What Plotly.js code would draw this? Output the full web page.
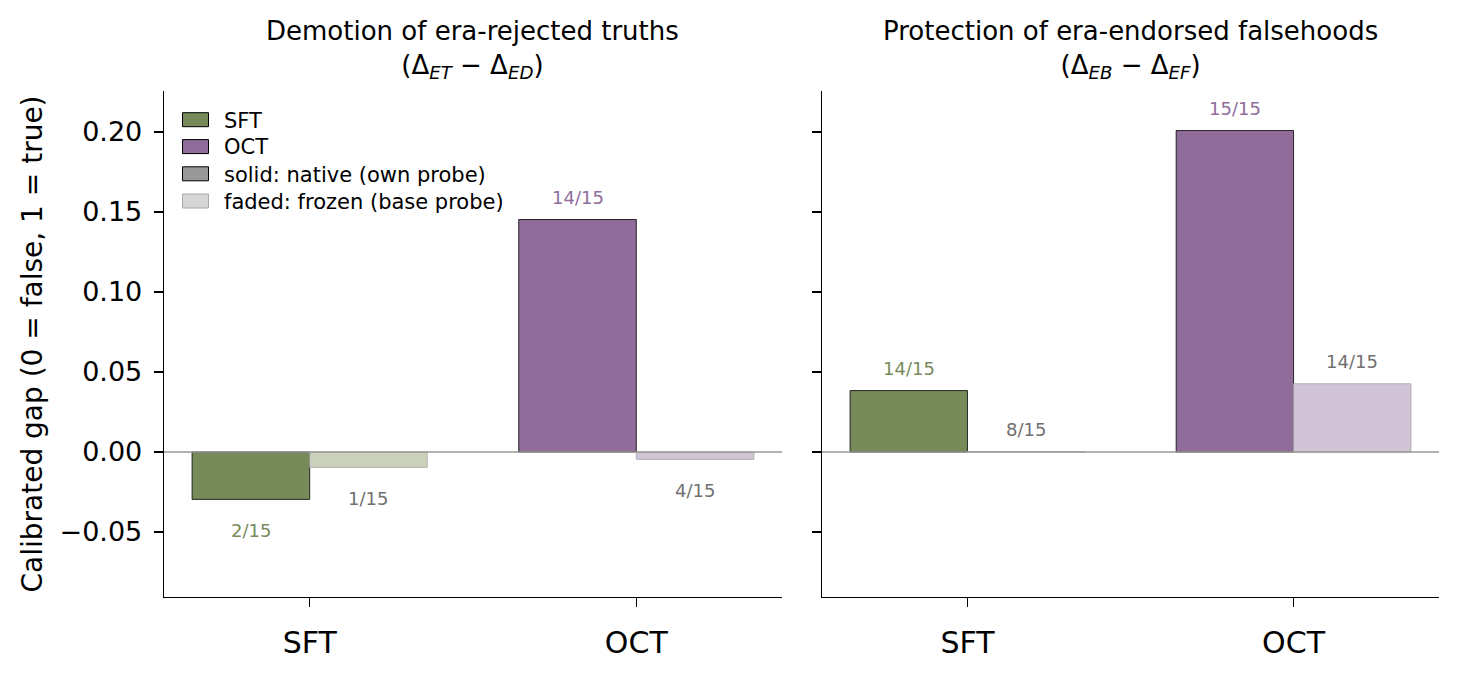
<!DOCTYPE html>
<html>
<head>
<meta charset="utf-8">
<script src="https://cdn.plot.ly/plotly-3.0.1.min.js"></script>
<style>html,body{margin:0;padding:0;background:#fff;}#chart{width:1459px;height:679px;}</style>
</head>
<body>
<div id="chart"></div>
<script>
// ---- data ----
const categories = ['SFT', 'OCT'];
const panelTitles = [
  'Demotion of era-rejected truths<br>(Δ<sub><i>ET</i></sub> − Δ<sub><i>ED</i></sub>)',
  'Protection of era-endorsed falsehoods<br>(Δ<sub><i>EB</i></sub> − Δ<sub><i>EF</i></sub>)'
];
const nativeDemotion = [-0.0296, 0.1453];
const frozenDemotion = [-0.0096, -0.0046];
const nativeProtection = [0.0384, 0.2009];
const frozenProtection = [0.0003, 0.0427];
const nativeLabelsDemotion = ['2/15', '14/15'];
const frozenLabelsDemotion = ['1/15', '4/15'];
const nativeLabelsProtection = ['14/15', '15/15'];
const frozenLabelsProtection = ['8/15', '14/15'];
const yTicks = [-0.05, 0.00, 0.05, 0.10, 0.15, 0.20];
const legendNames = ['SFT', 'OCT', 'solid: native (own probe)', 'faded: frozen (base probe)'];

// ---- styles ----
const solidColors = ['#778B5A', '#8F6C9A'];
const fadedColors = ['#C9D1BD', '#D1C4D7'];
const frozenLabelColor = '#707070';
const W = 0.36;
const FONT = 'DejaVu Sans, Liberation Sans, sans-serif';
const xs = categories.map((c, i) => i);

// plot-area geometry (px) used only for placing legend rows
const PLOT_L = 164, PLOT_T = 91, PLOT_W = 1275, PLOT_H = 506;
const legendRowsPx = [119.7, 146.6, 173.8, 201];
const legendFill = [solidColors[0], solidColors[1], '#999999', '#D6D6D6'];
const legendEdge = ['#000', '#000', '#000', '#A8A8A8'];

function barTrace(vals, offset, colors, edge, edgeW, xa, ya) {
  return {
    type: 'bar', x: xs, y: vals, offset: offset, width: W,
    xaxis: xa, yaxis: ya, showlegend: false, hoverinfo: 'skip',
    marker: {color: colors, line: {color: edge, width: edgeW}}
  };
}

const traces = [
  barTrace(nativeDemotion, -W, solidColors, '#000', 0.8, 'x', 'y'),
  barTrace(frozenDemotion, 0, fadedColors, '#A8A8A8', 0.8, 'x', 'y'),
  barTrace(nativeProtection, -W, solidColors, '#000', 0.8, 'x2', 'y2'),
  barTrace(frozenProtection, 0, fadedColors, '#A8A8A8', 0.8, 'x2', 'y2')
];

const layout = {
  width: 1459, height: 679,
  margin: {l: PLOT_L, r: 20, t: PLOT_T, b: 82},
  paper_bgcolor: '#fff', plot_bgcolor: '#fff',
  font: {family: FONT, color: '#000'},
  barmode: 'overlay',
  showlegend: true
};

const shapes = ['x', 'x2'].map((xa, k) => ({
  type: 'line', xref: xa + ' domain', yref: k === 0 ? 'y' : 'y2',
  x0: 0, x1: 1, y0: 0, y1: 0, layer: 'above',
  line: {color: '#999999', width: 1.4}
}));

legendNames.forEach((n, k) => {
  const lname = k === 0 ? 'legend' : 'legend' + (k + 1);
  traces.push({
    type: 'bar', x: [null], y: [null], name: n, xaxis: 'x', yaxis: 'y',
    legend: lname, showlegend: true, hoverinfo: 'skip', offset: 0, width: W,
    marker: {color: 'rgba(0,0,0,0)', line: {color: 'rgba(0,0,0,0)', width: 0}}
  });
  const rowY = legendRowsPx[k];
  layout[lname] = {
    x: (184 - PLOT_L) / PLOT_W, y: (PLOT_T + PLOT_H - rowY) / PLOT_H,
    xanchor: 'left', yanchor: 'middle', xref: 'paper', yref: 'paper',
    bgcolor: 'rgba(0,0,0,0)', borderwidth: 0,
    font: {family: FONT, size: 21, color: '#000'},
    itemclick: false, itemdoubleclick: false
  };
  // legend patch drawn as a rectangle (larger than Plotly's default swatch)
  shapes.push({
    type: 'rect', xref: 'paper', yref: 'paper', layer: 'above',
    x0: (182.5 - PLOT_L) / PLOT_W, x1: (208.5 - PLOT_L) / PLOT_W,
    y0: (PLOT_T + PLOT_H - (rowY + 7)) / PLOT_H, y1: (PLOT_T + PLOT_H - (rowY - 7)) / PLOT_H,
    fillcolor: legendFill[k], line: {color: legendEdge[k], width: 1}
  });
});

const annotations = [];
function addLabels(vals, labels, dx, colorFn, xref, yref) {
  vals.forEach((v, i) => {
    annotations.push({
      x: i + dx, y: v, xref: xref, yref: yref, text: labels[i], showarrow: false,
      yshift: v >= 0 ? 22 : -31, yanchor: 'middle', xanchor: 'center',
      font: {family: FONT, size: 18, color: colorFn(i)}
    });
  });
}
addLabels(nativeDemotion, nativeLabelsDemotion, -W / 2, i => solidColors[i], 'x', 'y');
addLabels(frozenDemotion, frozenLabelsDemotion, W / 2, i => frozenLabelColor, 'x', 'y');
addLabels(nativeProtection, nativeLabelsProtection, -W / 2, i => solidColors[i], 'x2', 'y2');
addLabels(frozenProtection, frozenLabelsProtection, W / 2, i => frozenLabelColor, 'x2', 'y2');

panelTitles.forEach((t, k) => {
  annotations.push({
    text: t, xref: (k === 0 ? 'x' : 'x2') + ' domain', yref: 'paper',
    x: 0.5, y: 1, yshift: 6, xanchor: 'center', yanchor: 'bottom', showarrow: false,
    font: {family: FONT, size: 26, color: '#000'}
  });
});

const xCommon = {
  range: [-0.446, 1.446], tickvals: xs, ticktext: categories,
  showline: true, linecolor: '#000', linewidth: 1.3, mirror: false,
  ticks: 'outside', ticklen: 9, tickwidth: 1.3, tickcolor: '#000',
  showgrid: false, zeroline: false, fixedrange: true,
  tickfont: {family: FONT, size: 30, color: '#000'}, ticklabelstandoff: 10
};
const yCommon = {
  range: [-0.0906, 0.2256], tickvals: yTicks, tickformat: '.2f',
  showline: true, linecolor: '#000', linewidth: 1.3,
  ticks: 'outside', ticklen: 9, tickwidth: 1.3, tickcolor: '#000',
  showgrid: false, zeroline: false, fixedrange: true,
  tickfont: {family: FONT, size: 27, color: '#000'}
};

layout.xaxis = Object.assign({}, xCommon, {domain: [0, 0.4847], anchor: 'y'});
layout.xaxis2 = Object.assign({}, xCommon, {domain: [0.5161, 1], anchor: 'y2'});
layout.yaxis = Object.assign({}, yCommon, {
  anchor: 'x', ticklabelstandoff: 6,
  title: {text: 'Calibrated gap (0 = false, 1 = true)', standoff: 8,
          font: {family: FONT, size: 28, color: '#000'}}
});
layout.yaxis2 = Object.assign({}, yCommon, {anchor: 'x2', matches: 'y', showticklabels: false});
layout.annotations = annotations;
layout.shapes = shapes;

Plotly.newPlot('chart', traces, layout, {staticPlot: true, displayModeBar: false});
</script>
</body>
</html>
